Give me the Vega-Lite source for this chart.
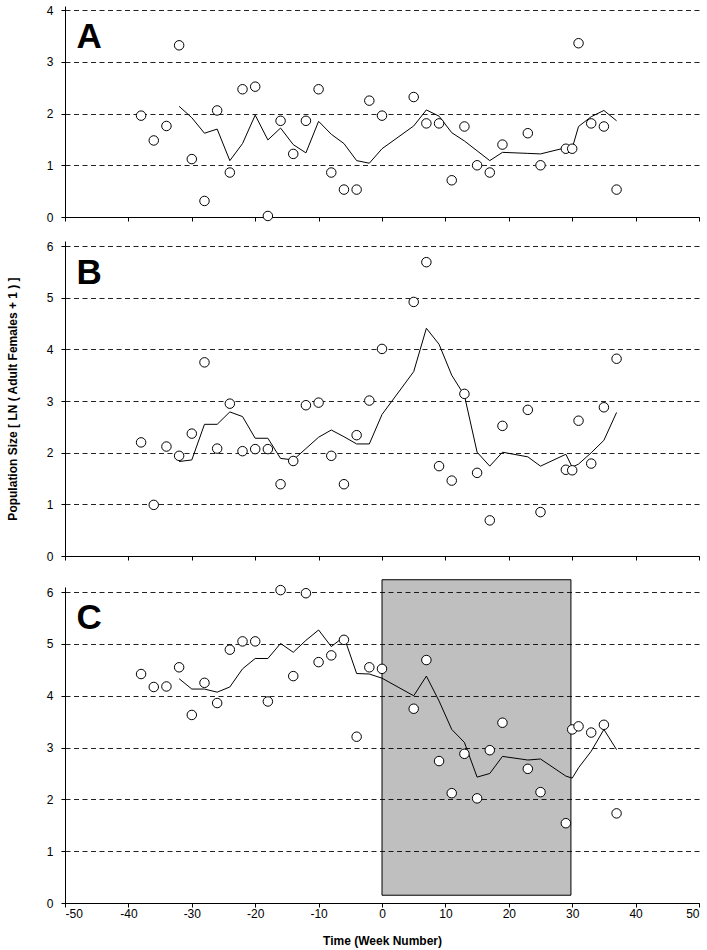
{
  "$schema": "https://vega.github.io/schema/vega-lite/v6.json",
  "background": "#ffffff",
  "padding": {"left": 6, "top": 4, "right": 2, "bottom": 2},
  "spacing": 17,
  "bounds": "full",
  "config": {
    "font": "Liberation Sans",
    "view": {"stroke": null},
    "axis": {
      "domainColor": "#000000", "domainWidth": 1,
      "tickColor": "#000000", "tickWidth": 1, "tickSize": 4,
      "labelColor": "#000000", "labelFont": "Liberation Sans", "labelFontSize": 12,
      "titleColor": "#000000", "titleFont": "Liberation Sans", "titleFontSize": 12, "titleFontWeight": "bold"
    },
    "axisY": {"grid": true, "gridColor": "#222222", "gridDash": [5, 3.5], "gridWidth": 1, "labelPadding": 8, "titlePadding": 27},
    "axisX": {"grid": false, "labelPadding": 1, "titlePadding": 16}
  },
  "datasets": {
    "A": [
      {"week": -38, "obs": 1.96, "fit": null},
      {"week": -36, "obs": 1.48, "fit": null},
      {"week": -34, "obs": 1.76, "fit": null},
      {"week": -32, "obs": 3.32, "fit": 2.14},
      {"week": -30, "obs": 1.12, "fit": 1.92},
      {"week": -28, "obs": 0.31, "fit": 1.62},
      {"week": -26, "obs": 2.06, "fit": 1.7},
      {"week": -24, "obs": 0.86, "fit": 1.09},
      {"week": -22, "obs": 2.47, "fit": 1.42},
      {"week": -20, "obs": 2.52, "fit": 1.97},
      {"week": -18, "obs": 0.02, "fit": 1.49},
      {"week": -16, "obs": 1.86, "fit": 1.72},
      {"week": -14, "obs": 1.22, "fit": 1.4},
      {"week": -12, "obs": 1.86, "fit": 1.24},
      {"week": -10, "obs": 2.47, "fit": 1.85},
      {"week": -8, "obs": 0.86, "fit": 1.6},
      {"week": -6, "obs": 0.53, "fit": 1.42},
      {"week": -4, "obs": 0.53, "fit": 1.09},
      {"week": -2, "obs": 2.25, "fit": 1.04},
      {"week": 0, "obs": 1.96, "fit": 1.32},
      {"week": 5, "obs": 2.32, "fit": 1.76},
      {"week": 7, "obs": 1.81, "fit": 2.07},
      {"week": 9, "obs": 1.81, "fit": 1.95},
      {"week": 11, "obs": 0.71, "fit": 1.63},
      {"week": 13, "obs": 1.75, "fit": 1.47},
      {"week": 15, "obs": 1.0, "fit": 1.28},
      {"week": 17, "obs": 0.86, "fit": 1.09},
      {"week": 19, "obs": 1.4, "fit": 1.25},
      {"week": 23, "obs": 1.62, "fit": 1.23},
      {"week": 25, "obs": 1.0, "fit": 1.22},
      {"week": 29, "obs": 1.32, "fit": 1.34},
      {"week": 30, "obs": 1.32, "fit": 1.33},
      {"week": 31, "obs": 3.36, "fit": 1.75},
      {"week": 33, "obs": 1.81, "fit": 1.94},
      {"week": 35, "obs": 1.75, "fit": 2.06},
      {"week": 37, "obs": 0.53, "fit": 1.86}
    ],
    "B": [
      {"week": -38, "obs": 2.2, "fit": null},
      {"week": -36, "obs": 0.99, "fit": null},
      {"week": -34, "obs": 2.12, "fit": null},
      {"week": -32, "obs": 1.94, "fit": 1.83},
      {"week": -30, "obs": 2.37, "fit": 1.86},
      {"week": -28, "obs": 3.75, "fit": 2.55},
      {"week": -26, "obs": 2.08, "fit": 2.55},
      {"week": -24, "obs": 2.95, "fit": 2.79},
      {"week": -22, "obs": 2.03, "fit": 2.7},
      {"week": -20, "obs": 2.07, "fit": 2.28},
      {"week": -18, "obs": 2.07, "fit": 2.28},
      {"week": -16, "obs": 1.39, "fit": 1.89},
      {"week": -14, "obs": 1.84, "fit": 1.86},
      {"week": -12, "obs": 2.92, "fit": 2.08},
      {"week": -10, "obs": 2.97, "fit": 2.3},
      {"week": -8, "obs": 1.94, "fit": 2.44},
      {"week": -6, "obs": 1.39, "fit": 2.31},
      {"week": -4, "obs": 2.34, "fit": 2.17},
      {"week": -2, "obs": 3.01, "fit": 2.17},
      {"week": 0, "obs": 4.01, "fit": 2.74},
      {"week": 5, "obs": 4.92, "fit": 3.57},
      {"week": 7, "obs": 5.69, "fit": 4.41},
      {"week": 9, "obs": 1.74, "fit": 4.1},
      {"week": 11, "obs": 1.46, "fit": 3.5},
      {"week": 13, "obs": 3.14, "fit": 3.11},
      {"week": 15, "obs": 1.61, "fit": 2.01},
      {"week": 17, "obs": 0.69, "fit": 1.74},
      {"week": 19, "obs": 2.52, "fit": 2.01},
      {"week": 23, "obs": 2.83, "fit": 1.92},
      {"week": 25, "obs": 0.85, "fit": 1.74},
      {"week": 29, "obs": 1.67, "fit": 1.97},
      {"week": 30, "obs": 1.66, "fit": 1.72},
      {"week": 31, "obs": 2.62, "fit": 1.78},
      {"week": 33, "obs": 1.79, "fit": 2.0},
      {"week": 35, "obs": 2.88, "fit": 2.24},
      {"week": 37, "obs": 3.82, "fit": 2.78}
    ],
    "C": [
      {"week": -38, "obs": 4.42, "fit": null},
      {"week": -36, "obs": 4.17, "fit": null},
      {"week": -34, "obs": 4.18, "fit": null},
      {"week": -32, "obs": 4.55, "fit": 4.33},
      {"week": -30, "obs": 3.63, "fit": 4.13},
      {"week": -28, "obs": 4.25, "fit": 4.13},
      {"week": -26, "obs": 3.86, "fit": 4.07},
      {"week": -24, "obs": 4.89, "fit": 4.17},
      {"week": -22, "obs": 5.05, "fit": 4.52},
      {"week": -20, "obs": 5.05, "fit": 4.72},
      {"week": -18, "obs": 3.89, "fit": 4.72},
      {"week": -16, "obs": 6.04, "fit": 5.01},
      {"week": -14, "obs": 4.38, "fit": 4.84},
      {"week": -12, "obs": 5.98, "fit": 5.07},
      {"week": -10, "obs": 4.65, "fit": 5.27},
      {"week": -8, "obs": 4.78, "fit": 4.95},
      {"week": -6, "obs": 5.08, "fit": 5.14},
      {"week": -4, "obs": 3.21, "fit": 4.43},
      {"week": -2, "obs": 4.55, "fit": 4.42},
      {"week": 0, "obs": 4.52, "fit": 4.34},
      {"week": 5, "obs": 3.75, "fit": 4.0},
      {"week": 7, "obs": 4.69, "fit": 4.38},
      {"week": 9, "obs": 2.74, "fit": 3.9},
      {"week": 11, "obs": 2.12, "fit": 3.35},
      {"week": 13, "obs": 2.88, "fit": 3.1},
      {"week": 15, "obs": 2.02, "fit": 2.43},
      {"week": 17, "obs": 2.95, "fit": 2.5},
      {"week": 19, "obs": 3.48, "fit": 2.83},
      {"week": 23, "obs": 2.59, "fit": 2.76},
      {"week": 25, "obs": 2.14, "fit": 2.78},
      {"week": 29, "obs": 1.54, "fit": 2.45},
      {"week": 30, "obs": 3.35, "fit": 2.41},
      {"week": 31, "obs": 3.41, "fit": 2.61},
      {"week": 33, "obs": 3.29, "fit": 2.93},
      {"week": 35, "obs": 3.44, "fit": 3.35},
      {"week": 37, "obs": 1.73, "fit": 2.96}
    ],
    "shade": [{"start": 0, "end": 29.8, "low": 0.15, "high": 6.24}]
  },
  "vconcat": [
    {
      "width": 634, "height": 211,
      "data": {"name": "A"},
      "layer": [
        {
          "mark": {"type": "line", "color": "#000000", "strokeWidth": 1},
          "encoding": {
            "x": {"field": "week", "type": "quantitative", "scale": {"domain": [-50, 50], "nice": false},
                  "axis": {"labels": false, "title": null, "values": [-50, -40, -30, -20, -10, 0, 10, 20, 30, 40, 50]}},
            "y": {"field": "fit", "type": "quantitative", "scale": {"domain": [0, 4.08], "nice": false, "zero": false},
                  "axis": {"values": [0, 1, 2, 3, 4], "format": "d", "title": null}}
          }
        },
        {
          "mark": {"type": "point", "shape": "circle", "filled": true, "fill": "#ffffff", "stroke": "#000000", "strokeWidth": 1, "size": 90, "opacity": 1},
          "encoding": {
            "x": {"field": "week", "type": "quantitative"},
            "y": {"field": "obs", "type": "quantitative"}
          }
        },
        {
          "data": {"values": [{}]},
          "mark": {"type": "text", "fontSize": 35, "fontWeight": "bold", "align": "left", "baseline": "alphabetic", "color": "#000000"},
          "encoding": {"x": {"datum": -48.2}, "y": {"datum": 3.26}, "text": {"value": "A"}}
        }
      ]
    },
    {
      "width": 634, "height": 315,
      "data": {"name": "B"},
      "layer": [
        {
          "mark": {"type": "line", "color": "#000000", "strokeWidth": 1},
          "encoding": {
            "x": {"field": "week", "type": "quantitative", "scale": {"domain": [-50, 50], "nice": false},
                  "axis": {"labels": false, "title": null, "values": [-50, -40, -30, -20, -10, 0, 10, 20, 30, 40, 50]}},
            "y": {"field": "fit", "type": "quantitative", "scale": {"domain": [0, 6.1], "nice": false, "zero": false},
                  "axis": {"values": [0, 1, 2, 3, 4, 5, 6], "format": "d", "title": "Population Size [ LN ( Adult Females + 1 ) ]"}}
          }
        },
        {
          "mark": {"type": "point", "shape": "circle", "filled": true, "fill": "#ffffff", "stroke": "#000000", "strokeWidth": 1, "size": 90, "opacity": 1},
          "encoding": {
            "x": {"field": "week", "type": "quantitative"},
            "y": {"field": "obs", "type": "quantitative"}
          }
        },
        {
          "data": {"values": [{}]},
          "mark": {"type": "text", "fontSize": 35, "fontWeight": "bold", "align": "left", "baseline": "alphabetic", "color": "#000000"},
          "encoding": {"x": {"datum": -48.2}, "y": {"datum": 5.26}, "text": {"value": "B"}}
        }
      ]
    },
    {
      "width": 634, "height": 316,
      "data": {"name": "C"},
      "layer": [
        {
          "data": {"name": "shade"},
          "mark": {"type": "rect", "fill": "#000000", "fillOpacity": 0.25, "stroke": "#000000", "strokeOpacity": 1, "strokeWidth": 1},
          "encoding": {
            "x": {"field": "start", "type": "quantitative", "scale": {"domain": [-50, 50], "nice": false},
                  "axis": {"title": "Time (Week Number)", "labelExpr": "'' + datum.value", "values": [-50, -40, -30, -20, -10, 0, 10, 20, 30, 40, 50]}},
            "x2": {"field": "end"},
            "y": {"field": "low", "type": "quantitative", "scale": {"domain": [0, 6.1], "nice": false, "zero": false},
                  "axis": {"values": [0, 1, 2, 3, 4, 5, 6], "format": "d", "title": null}},
            "y2": {"field": "high"}
          }
        },
        {
          "mark": {"type": "line", "color": "#000000", "strokeWidth": 1},
          "encoding": {
            "x": {"field": "week", "type": "quantitative"},
            "y": {"field": "fit", "type": "quantitative"}
          }
        },
        {
          "mark": {"type": "point", "shape": "circle", "filled": true, "fill": "#ffffff", "stroke": "#000000", "strokeWidth": 1, "size": 90, "opacity": 1},
          "encoding": {
            "x": {"field": "week", "type": "quantitative"},
            "y": {"field": "obs", "type": "quantitative"}
          }
        },
        {
          "data": {"values": [{}]},
          "mark": {"type": "text", "fontSize": 35, "fontWeight": "bold", "align": "left", "baseline": "alphabetic", "color": "#000000"},
          "encoding": {"x": {"datum": -48.2}, "y": {"datum": 5.29}, "text": {"value": "C"}}
        }
      ]
    }
  ]
}
